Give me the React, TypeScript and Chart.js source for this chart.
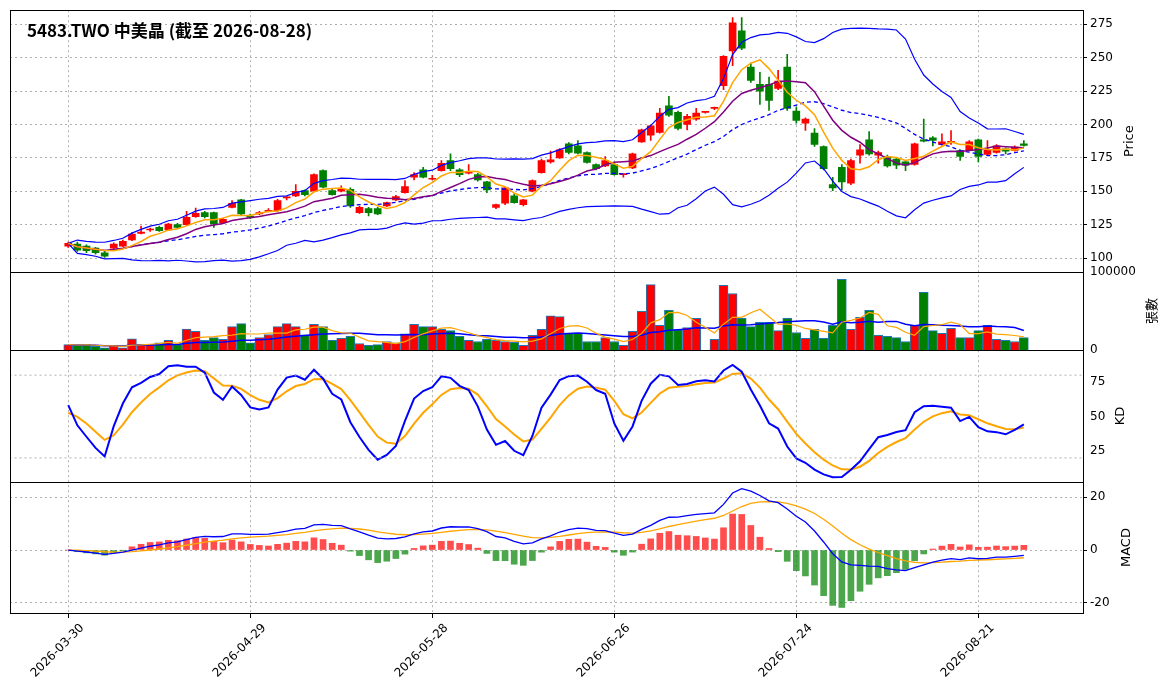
import React, { useEffect, useRef } from 'react';
import { Chart, registerables } from 'chart.js';
Chart.register(...registerables);

const titleText = '5483.TWO 中美晶 (截至 2026-08-28)';
const xTickPositions = [0, 20, 40, 60, 80, 100];
const xTickLabels = ['2026-03-30', '2026-04-29', '2026-05-28', '2026-06-26', '2026-07-24', '2026-08-21'];
const priceTicks = [100, 125, 150, 175, 200, 225, 250, 275];
const volTicks = [0, 100000];
const kdTicks = [25, 50, 75];
const macdTicks = [-20, 0, 20];

const opens = [109,110.5,109,107.5,104,107.5,109,113.5,118.5,121,123,121,125,125,131,134,134,126.5,138,143.5,
131.5,133,135,135.5,145,146.5,150.5,150,165.5,150.5,150,151.5,134,137,137,139,143.5,149,160.5,166,
159,165.5,173,166,163.5,162.5,157,138,141,146.5,140,150,164,172,175,185.5,184,179,170,169,
170,162.5,167.5,187,192,194,214,209,200,204,209,212,229,255,270,243,230,230,227,243,
210,201,193.5,183.5,155,168,156,177,188.5,177,176,174,172,170,188.5,190,185,186.7,180.5,181,
188.5,177.5,179,181.7,180.5,185.5];
const closes = [111,106,105.5,104,101.5,110.5,112.5,118,119.5,121,120.5,125.5,123,130.5,133.5,131,125.5,129,141,133,
130.5,134,135.5,143,145,150,147.5,162.5,153,147.5,151.5,139,138,134,133,141.5,146,153.5,162.5,160.5,
159.5,171,167,162.5,165,158.5,151,140,152.5,141.5,143.5,158,173,173.5,181,179,178.5,171.5,167,173,
162.5,162.5,178,196,199,208.5,207,197,206,208.5,209,212,251,276,257,233,225,218,232.5,212,
203,204,185,167,152.5,157,173,181,178,179,169,169.5,169.5,185.5,187.5,188,187,186.7,176,187,
176,181,184,180,183,184.3];
const highs = [112,112,110,108,105,111.5,113.5,119,124,122.5,124,126,126,135,137.5,135,134.5,130,143,144,
133,135,137,144,146,155,151,163,166,152,154,152.5,139,138,138,142,147,158,164,168,
162,173,178,167,170,163.5,157.5,140.5,153,148,144,158.5,174,180,182,186.5,188,179.5,170.5,176,
171,163,178.5,196.5,199.5,212,221,210,207.5,212,209.5,213,251.5,280,280,246,239,235.5,240.5,252.5,
213,205,197,184,160.5,170,174,185,194.7,180,177,175,173,186,204,191,193,195.5,181,188,
189,188,185,182.5,184,188];
const lows = [108,105,104,103,100.5,107,108.5,113,118,120,120,120.5,122,124.5,130.5,130,123,126,137.5,132,
129.5,132.5,134.5,135,143.5,146,146.5,149.5,152.5,147,149.5,138,133.5,131.5,132.5,138.5,143,148.5,158.5,160,
158.5,165,165.5,161,163,157.5,149,137,140,141,139,149.5,163.5,171,174.5,178,178,171,166,168.5,
162,160.5,167,186.5,188,193.5,206,196,196,203,208.5,211,226,244,256,231.5,215,210.5,226,210.5,
201,195.5,183.5,166,150.5,151,155,171,177,171,168,167,165.5,169.5,187,184,184.5,185,173,180.5,
172,177,178.5,178,180,183.8];
const volumes = [7000,6000,7000,4700,3000,6000,3000,14500,7000,7000,9400,12400,7000,27000,24000,12400,16000,13700,30000,34000,
9400,16000,20000,30000,34000,30000,19700,33000,30000,12400,15000,17500,8500,6000,7000,11000,9400,21000,33000,30000,
30000,26500,25000,17500,12400,11000,13700,12400,11000,9800,6000,18800,26500,44000,43000,21800,21800,11000,11000,16000,
11000,6000,24000,49600,84000,31600,51000,26000,29000,40600,0,13700,83000,72600,40600,30000,35500,35500,25000,40600,
22600,15000,26500,15000,31600,90600,26500,42000,51000,18800,17500,16000,11000,31600,74000,25000,21400,27800,16000,16000,
25000,31600,13700,12400,11000,16000];
const kdRefLevels = [20, 80];

function sma(a: number[], n: number) {
  return a.map((_, i) => { const s = a.slice(Math.max(0, i - n + 1), i + 1); return s.reduce((p, c) => p + c, 0) / s.length; });
}
function stdev(a: number[], n: number) {
  return a.map((_, i) => { const s = a.slice(Math.max(0, i - n + 1), i + 1); const m = s.reduce((p, c) => p + c, 0) / s.length; return Math.sqrt(s.reduce((p, c) => p + (c - m) ** 2, 0) / s.length); });
}
function ema(a: number[], n: number) {
  const k = 2 / (n + 1); const out: number[] = []; a.forEach((v, i) => out.push(i === 0 ? v : out[i - 1] + k * (v - out[i - 1]))); return out;
}

export default function App() {
  const ref = useRef<HTMLCanvasElement>(null);
  useEffect(() => {
    const idx = closes.map((_, i) => i);
    const ma5 = sma(closes, 5), ma10 = sma(closes, 10), ma20 = sma(closes, 20), sd20 = stdev(closes, 20);
    const bbU = ma20.map((m, i) => m + 2 * sd20[i]), bbL = ma20.map((m, i) => m - 2 * sd20[i]);
    const vma5 = sma(volumes, 5), vma20 = sma(volumes, 20);
    const K: number[] = [], D: number[] = [];
    closes.forEach((c, i) => {
      const hh = Math.max(...highs.slice(Math.max(0, i - 8), i + 1)), ll = Math.min(...lows.slice(Math.max(0, i - 8), i + 1));
      const rsv = hh === ll ? 50 : (c - ll) / (hh - ll) * 100;
      const pk = i ? K[i - 1] : 50, pd = i ? D[i - 1] : 50;
      K.push(pk * 2 / 3 + rsv / 3); D.push(pd * 2 / 3 + K[i] / 3);
    });
    const e12 = ema(closes, 12), e26 = ema(closes, 26);
    const dif = e12.map((v, i) => v - e26[i]); const dea = ema(dif, 9);
    const hist = dif.map((v, i) => 2 * (v - dea[i]));
    const up = closes.map((c, i) => c >= opens[i]);
    const candleCol = up.map(u => (u ? '#ff0000' : '#008000'));
    const pts = (arr: number[]) => arr.map((v, i) => ({ x: i, y: v }));
    const line = (data: number[], color: string, axis: string, w = 1.5, dash: number[] = []) => ({
      type: 'line' as const, data: pts(data), borderColor: color, borderWidth: w, borderDash: dash, pointRadius: 0, yAxisID: axis, order: 1, tension: 0,
    });
    const grid = { color: '#b0b0b0', lineWidth: 1 } as any;
    const tickFont = { family: 'DejaVu Sans', size: 12 };
    const yBase = (ticks: number[], min: number, max: number, showGrid = true) => ({
      type: 'linear' as const, position: 'right' as const, stack: 'all', min, max,
      grid: { ...grid, display: showGrid, drawTicks: true, tickLength: 4, tickColor: '#000' },
      border: { display: false, dash: [2, 3] },
      ticks: { color: '#000', font: tickFont, padding: 3, callback: (v: any) => String(v) },
      afterBuildTicks: (s: any) => { s.ticks = ticks.map(v => ({ value: v })); },
      afterFit: (s: any) => { s.width = 80; },
    });
    const decor = {
      id: 'decor',
      afterDraw(c: any) {
        const ctx = c.ctx, a = c.chartArea;
        ctx.save();
        ctx.strokeStyle = '#000'; ctx.lineWidth = 1;
        ['yP', 'yV', 'yK', 'yM'].forEach(id => { const s = c.scales[id]; ctx.strokeRect(a.left + 0.5, Math.round(s.top) + 0.5, a.right - a.left, Math.round(s.bottom - s.top)); });
        ctx.fillStyle = '#000';
        ctx.font = 'bold 17px "Noto Sans CJK SC"'; ctx.textBaseline = 'middle'; ctx.textAlign = 'left';
        ctx.fillText(titleText, 19, 31);
        ctx.font = '13px "DejaVu Sans", "Noto Sans CJK TC"'; ctx.textAlign = 'center';
        const lab = (t: string, x: number, id: string) => { const s = c.scales[id]; ctx.save(); ctx.translate(x, (s.top + s.bottom) / 2); ctx.rotate(-Math.PI / 2); ctx.fillText(t, 0, 0); ctx.restore(); };
        lab('Price', 1122, 'yP'); lab('張數', 1145, 'yV'); lab('KD', 1113, 'yK'); lab('MACD', 1119, 'yM');
        ctx.restore();
      },
    };
    const chart = new Chart(ref.current!, {
      type: 'bar',
      data: {
        datasets: [
          line(ma5, 'orange', 'yP'), line(ma10, 'purple', 'yP'), line(ma20, 'blue', 'yP', 1.3, [4, 3]),
          line(bbU, 'blue', 'yP', 1.2), line(bbL, 'blue', 'yP', 1.2),
          { type: 'bar', data: idx.map(i => ({ x: i, y: [opens[i], closes[i]] })), backgroundColor: candleCol, barThickness: 7, grouped: false, minBarLength: 1, yAxisID: 'yP', order: 10 } as any,
          { type: 'bar', data: idx.map(i => ({ x: i, y: [lows[i], highs[i]] })), backgroundColor: candleCol, barThickness: 1, grouped: false, yAxisID: 'yP', order: 11 } as any,
          { type: 'bar', data: pts(volumes), backgroundColor: candleCol, borderColor: '#1f77b4', borderWidth: 1, barThickness: 9, grouped: false, yAxisID: 'yV', order: 10 } as any,
          line(vma5, 'orange', 'yV', 1.2), line(vma20, 'blue', 'yV', 1.5),
          ...kdRefLevels.map(l => ({ ...line([], '#b0b0b0', 'yK', 1, [2, 3]), data: [{ x: -7, y: l }, { x: 112, y: l }] })),
          line(K, 'blue', 'yK', 2), line(D, 'orange', 'yK', 2),
          { type: 'bar', data: pts(hist), backgroundColor: hist.map(h => (h >= 0 ? 'rgba(255,0,0,0.7)' : 'rgba(0,128,0,0.7)')), barThickness: 6, grouped: false, yAxisID: 'yM', order: 10 } as any,
          line(dif, 'blue', 'yM', 1.3), line(dea, 'orange', 'yM', 1.3),
        ],
      },
      options: {
        animation: false, responsive: false, events: [],
        layout: { padding: { top: 0, left: 2, right: 0, bottom: 0 } },
        plugins: { legend: { display: false }, tooltip: { enabled: false } },
        scales: {
          x: {
            type: 'linear', min: -6.4, max: 111.5, position: 'bottom', offset: false,
            grid: { ...grid, offset: false, drawTicks: true, tickLength: 5, tickColor: '#000' }, border: { display: false, dash: [2, 3] },
            afterBuildTicks: (s: any) => { s.ticks = xTickPositions.map(v => ({ value: v })); },
            ticks: { color: '#000', font: tickFont, minRotation: 45, maxRotation: 45, autoSkip: false, labelOffset: 14,
              callback: (v: any) => { const k = xTickPositions.indexOf(Number(v)); return k >= 0 ? xTickLabels[k] : ''; } },
            afterFit: (s: any) => { s.height = 77; },
          },
          yP: { ...yBase(priceTicks, 89.5, 285.5), stackWeight: 262 },
          yV: { ...yBase(volTicks, 0, 100000, false), stackWeight: 78 },
          yK: { ...yBase(kdTicks, 2.5, 98.2, false), stackWeight: 132 },
          yM: { ...yBase(macdTicks, -23.8, 25.7), stackWeight: 131 },
        } as any,
      },
      plugins: [decor],
    });
    return () => chart.destroy();
  }, []);
  return <canvas ref={ref} width={1155} height={690} style={{ display: 'block', marginTop: -8 }} />;
}
